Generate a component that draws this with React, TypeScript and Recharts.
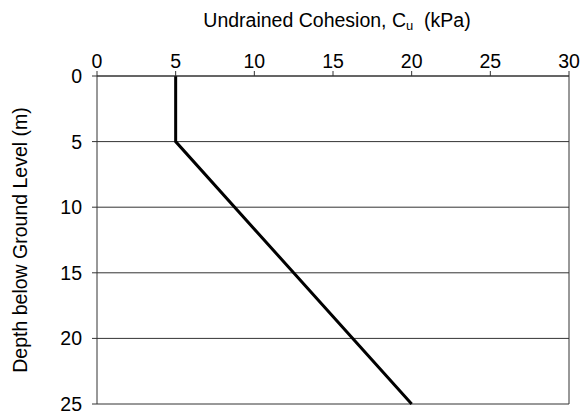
import { LineChart, Line, XAxis, YAxis, CartesianGrid, ReferenceLine, Label } from "recharts";

// profile points: undrained cohesion (kPa) vs depth (m)
const cohesion = [5, 5, 20];
const depth = [0, 5, 25];
const xTicks = [0, 5, 10, 15, 20, 25, 30];
const yTicks = [0, 5, 10, 15, 20, 25];

const data = depth.map((d, i) => ({ depth: d, cu: cohesion[i] }));

const FONT = "'Liberation Sans', Arial, sans-serif";
const AXIS = "#333";
const FS = 19.5;

export default function App() {
  return (
    <div style={{ position: "absolute", left: 0, top: 0, background: "#fff" }}>
      <LineChart
        width={581}
        height={416}
        data={data}
        layout="vertical"
        margin={{ top: 46, right: 12, bottom: 12, left: 0 }}
        style={{ fontFamily: FONT }}
      >
        <CartesianGrid vertical={false} stroke={AXIS} />
        <XAxis
          type="number"
          dataKey="cu"
          orientation="top"
          domain={[0, 30]}
          ticks={xTicks}
          height={30}
          tickSize={5}
          tickMargin={3}
          stroke={AXIS}
          tick={{ fill: "#000", fontSize: FS }}
        >
          <Label
            content={() => (
              <text x={337} y={20} textAnchor="middle" dominantBaseline="central" fontSize={FS} fill="#000">
                Undrained Cohesion, C
                <tspan fontSize={13} dy={5}>u</tspan>
                <tspan dy={-5}>{"\u00A0\u00A0(kPa)"}</tspan>
              </text>
            )}
          />
        </XAxis>
        <YAxis
          type="number"
          dataKey="depth"
          domain={[0, 25]}
          ticks={yTicks}
          width={97}
          tickSize={5}
          tickMargin={10}
          stroke={AXIS}
          tick={{ fill: "#000", fontSize: FS }}
        >
          <Label
            content={() => (
              <text
                x={20}
                y={240}
                transform="rotate(-90 20 240)"
                textAnchor="middle"
                dominantBaseline="central"
                fontSize={FS}
                fill="#000"
              >
                Depth below Ground Level (m)
              </text>
            )}
          />
        </YAxis>
        <ReferenceLine x={30} stroke={AXIS} />
        <Line
          dataKey="cu"
          stroke="#000"
          strokeWidth={3}
          dot={false}
          isAnimationActive={false}
        />
      </LineChart>
    </div>
  );
}
